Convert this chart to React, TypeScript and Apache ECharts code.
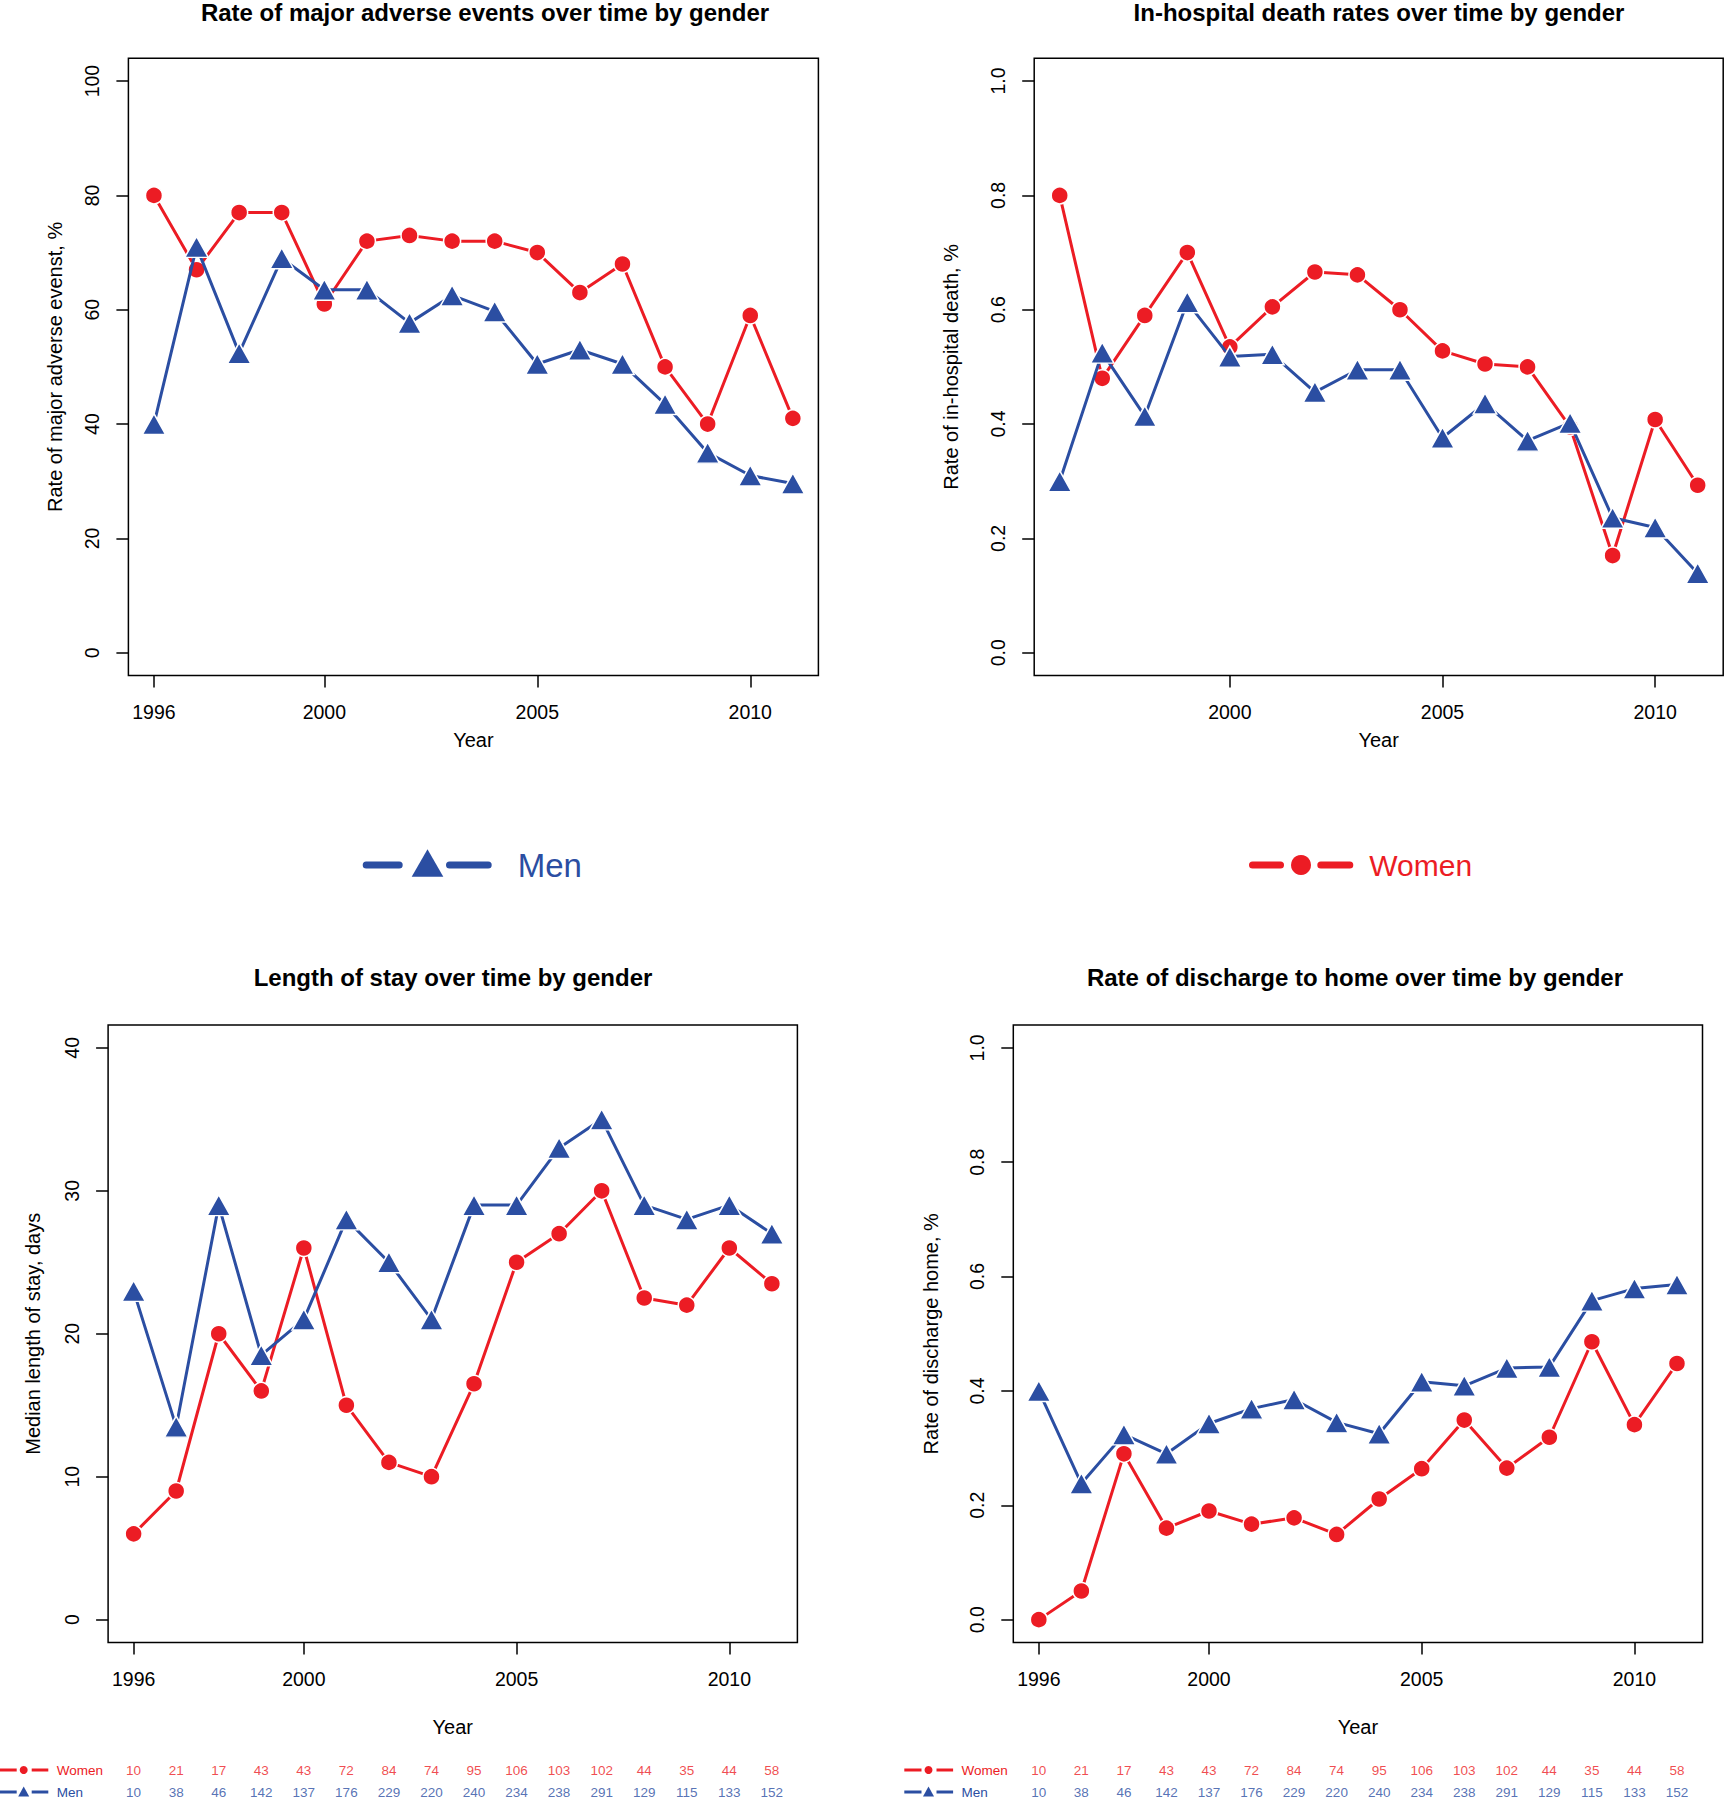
import React, { useEffect, useRef } from "react";
import * as echarts from "echarts";

// ---------------- data ----------------
const YEARS = [1996, 1997, 1998, 1999, 2000, 2001, 2002, 2003, 2004, 2005, 2006, 2007, 2008, 2009, 2010, 2011];

const MAE_WOMEN = [80, 67, 77, 77, 61, 72, 73, 72, 72, 70, 63, 68, 50, 40, 59, 41];
const MAE_MEN = [40, 71, 52.4, 69, 63.5, 63.5, 57.7, 62.5, 59.7, 50.5, 53, 50.5, 43.5, 35, 31, 29.6];

const DEATH_WOMEN = [0.8, 0.48, 0.59, 0.7, 0.535, 0.605, 0.666, 0.661, 0.6, 0.528, 0.505, 0.5, 0.395, 0.17, 0.408, 0.293];
const DEATH_MEN = [0.3, 0.525, 0.414, 0.613, 0.518, 0.522, 0.456, 0.495, 0.495, 0.376, 0.436, 0.371, 0.402, 0.236, 0.219, 0.139];

const LOS_WOMEN = [6, 9, 20, 16, 26, 15, 11, 10, 16.5, 25, 27, 30, 22.5, 22, 26, 23.5];
const LOS_MEN = [23, 13.5, 29, 18.5, 21, 28, 25, 21, 29, 29, 33, 35, 29, 28, 29, 27];

const HOME_WOMEN = [0, 0.05, 0.29, 0.16, 0.19, 0.167, 0.178, 0.149, 0.211, 0.264, 0.349, 0.265, 0.319, 0.486, 0.341, 0.448];
const HOME_MEN = [0.4, 0.238, 0.324, 0.29, 0.343, 0.369, 0.385, 0.345, 0.325, 0.416, 0.409, 0.44, 0.442, 0.558, 0.579, 0.586];

const N_WOMEN = [10, 21, 17, 43, 43, 72, 84, 74, 95, 106, 103, 102, 44, 35, 44, 58];
const N_MEN = [10, 38, 46, 142, 137, 176, 229, 220, 240, 234, 238, 291, 129, 115, 133, 152];

const X_TICKS_FULL = [1996, 2000, 2005, 2010];
const X_TICKS_SHORT = [2000, 2005, 2010];
const Y_TICKS_PCT = [0, 20, 40, 60, 80, 100];
const Y_TICKS_RATE = [0, 0.2, 0.4, 0.6, 0.8, 1.0];
const Y_TICKS_DAYS = [0, 10, 20, 30, 40];

const TITLES = [
  "Rate of major adverse events over time by gender",
  "In-hospital death rates over time by gender",
  "Length of stay over time by gender",
  "Rate of discharge to home over time by gender",
];
const Y_NAMES = [
  "Rate of major adverse evenst, %",
  "Rate of in-hospital death, %",
  "Median length of stay, days",
  "Rate of discharge home, %",
];
const SERIES_NAMES = ["Women", "Men"];

// ---------------- style ----------------
const RED = "#EC1C24";
const BLUE = "#2B4EA2";
const FONT = "'Liberation Sans', Arial, Helvetica, sans-serif";
const X_MIN = 1995.4;
const X_MAX = 2011.6;

const PANELS = [
  { left: 128.4, top: 58.2, width: 690, height: 617.4, yMin: -4, yMax: 104, yTicks: Y_TICKS_PCT, xTicks: X_TICKS_FULL, dec: 0, women: MAE_WOMEN, men: MAE_MEN, yGap: 63, xGap: 54, tx: 485, ty: 12 },
  { left: 1034.2, top: 58.2, width: 689, height: 617.4, yMin: -0.04, yMax: 1.04, yTicks: Y_TICKS_RATE, xTicks: X_TICKS_SHORT, dec: 1, women: DEATH_WOMEN, men: DEATH_MEN, yGap: 73, xGap: 54, tx: 1379, ty: 12 },
  { left: 108.1, top: 1025, width: 689.3, height: 617.5, yMin: -1.6, yMax: 41.6, yTicks: Y_TICKS_DAYS, xTicks: X_TICKS_FULL, dec: 0, women: LOS_WOMEN, men: LOS_MEN, yGap: 65, xGap: 74, tx: 453, ty: 977 },
  { left: 1013.3, top: 1025, width: 689.2, height: 617.5, yMin: -0.04, yMax: 1.04, yTicks: Y_TICKS_RATE, xTicks: X_TICKS_FULL, dec: 1, women: HOME_WOMEN, men: HOME_MEN, yGap: 72.7, xGap: 74, tx: 1355, ty: 977 },
];

const TABLES = [
  { left: 108.1, width: 689.3, legendX: 0 },
  { left: 1013.3, width: 689.2, legendX: 904.8 },
];
const ROW_WOMEN_Y = 1770;
const ROW_MEN_Y = 1792;

function buildOption() {
  const grids: any[] = [];
  const xAxes: any[] = [];
  const yAxes: any[] = [];
  const series: any[] = [];
  const graphics: any[] = [];

  const axisText = { color: "#000", fontSize: 19.5, fontFamily: FONT };

  PANELS.forEach((p, i) => {
    grids.push({
      left: p.left, top: p.top, width: p.width, height: p.height,
      show: true, borderColor: "#000", borderWidth: 1.5, backgroundColor: "transparent",
      containLabel: false, outerBoundsMode: "none",
    });
    xAxes.push({
      type: "value", gridIndex: i, min: X_MIN, max: X_MAX, position: "bottom",
      splitLine: { show: false },
      axisLine: { show: false, onZero: false },
      axisTick: { show: true, length: 12, lineStyle: { color: "#000", width: 1.5 }, customValues: p.xTicks },
      axisLabel: { ...axisText, margin: 26, customValues: p.xTicks, formatter: (v: number) => String(v) },
      name: "Year", nameLocation: "middle", nameGap: p.xGap,
      nameTextStyle: { ...axisText, fontSize: 20 },
    });
    yAxes.push({
      type: "value", gridIndex: i, min: p.yMin, max: p.yMax, position: "left",
      splitLine: { show: false },
      axisLine: { show: false, onZero: false },
      axisTick: { show: true, length: 12, lineStyle: { color: "#000", width: 1.5 }, customValues: p.yTicks },
      axisLabel: { ...axisText, margin: 26, rotate: 90, customValues: p.yTicks, formatter: (v: number) => v.toFixed(p.dec) },
      name: Y_NAMES[i], nameLocation: "middle", nameGap: p.yGap,
      nameTextStyle: { ...axisText, fontSize: 20 },
    });
    series.push({
      type: "line", name: SERIES_NAMES[0], xAxisIndex: i, yAxisIndex: i,
      data: YEARS.map((y, k) => [y, p.women[k]]),
      symbol: "circle", symbolSize: 17, showSymbol: true, showAllSymbol: true,
      lineStyle: { color: RED, width: 3 },
      itemStyle: { color: RED, borderColor: "#fff", borderWidth: 1.5 },
      emphasis: { disabled: true }, silent: true, z: 2,
    });
    series.push({
      type: "line", name: SERIES_NAMES[1], xAxisIndex: i, yAxisIndex: i,
      data: YEARS.map((y, k) => [y, p.men[k]]),
      symbol: "triangle", symbolSize: [23.5, 21], showSymbol: true, showAllSymbol: true,
      lineStyle: { color: BLUE, width: 3 },
      itemStyle: { color: BLUE, borderColor: "#fff", borderWidth: 1.5 },
      emphasis: { disabled: true }, silent: true, z: 3,
    });
    graphics.push({
      type: "text", x: p.tx, y: p.ty, silent: true,
      style: { text: TITLES[i], fill: "#000", font: `bold 24px ${FONT}`, align: "center", verticalAlign: "middle" },
    });
  });

  // count tables under the bottom panels
  const bandH = ROW_MEN_Y - ROW_WOMEN_Y;
  TABLES.forEach((t, j) => {
    const gi = PANELS.length + j;
    grids.push({
      left: t.left, top: ROW_WOMEN_Y - bandH / 2, width: t.width, height: bandH * 2,
      show: false, containLabel: false, outerBoundsMode: "none",
    });
    xAxes.push({ type: "value", gridIndex: gi, min: X_MIN, max: X_MAX, show: false });
    yAxes.push({ type: "category", gridIndex: gi, data: ["Men", "Women"], show: false });
    [
      { name: "Women", counts: N_WOMEN, color: RED },
      { name: "Men", counts: N_MEN, color: BLUE },
    ].forEach((row) => {
      series.push({
        type: "scatter", xAxisIndex: gi, yAxisIndex: gi, silent: true,
        data: YEARS.map((y, k) => [y, row.name, row.counts[k]]),
        symbolSize: 1, itemStyle: { color: "transparent" },
        label: {
          show: true, position: "inside", color: row.color, fontSize: 13.5, fontFamily: FONT,
          formatter: (pr: any) => String(pr.value[2]),
        },
        emphasis: { disabled: true },
      });
    });
    const lx = t.legendX;
    // Women row key
    graphics.push({ type: "line", silent: true, shape: { x1: lx - 0.5, y1: ROW_WOMEN_Y, x2: lx + 16.7, y2: ROW_WOMEN_Y }, style: { stroke: RED, lineWidth: 3 } });
    graphics.push({ type: "line", silent: true, shape: { x1: lx + 31.7, y1: ROW_WOMEN_Y, x2: lx + 48.3, y2: ROW_WOMEN_Y }, style: { stroke: RED, lineWidth: 3 } });
    graphics.push({ type: "circle", silent: true, shape: { cx: lx + 23.7, cy: ROW_WOMEN_Y, r: 4 }, style: { fill: RED } });
    graphics.push({ type: "text", silent: true, x: lx + 56.7, y: ROW_WOMEN_Y, style: { text: "Women", fill: RED, font: `13.5px ${FONT}`, align: "left", verticalAlign: "middle" } });
    // Men row key
    graphics.push({ type: "line", silent: true, shape: { x1: lx - 0.5, y1: ROW_MEN_Y, x2: lx + 16.7, y2: ROW_MEN_Y }, style: { stroke: BLUE, lineWidth: 3 } });
    graphics.push({ type: "line", silent: true, shape: { x1: lx + 31.7, y1: ROW_MEN_Y, x2: lx + 48.3, y2: ROW_MEN_Y }, style: { stroke: BLUE, lineWidth: 3 } });
    graphics.push({ type: "polygon", silent: true, shape: { points: [[lx + 23.7, ROW_MEN_Y - 5.5], [lx + 29.2, ROW_MEN_Y + 4.5], [lx + 18.2, ROW_MEN_Y + 4.5]] }, style: { fill: BLUE } });
    graphics.push({ type: "text", silent: true, x: lx + 56.7, y: ROW_MEN_Y, style: { text: "Men", fill: BLUE, font: `13.5px ${FONT}`, align: "left", verticalAlign: "middle" } });
  });

  // central legend
  graphics.push({ type: "line", silent: true, shape: { x1: 366.2, y1: 865, x2: 399.2, y2: 865 }, style: { stroke: BLUE, lineWidth: 7, lineCap: "round" } });
  graphics.push({ type: "line", silent: true, shape: { x1: 449.5, y1: 865, x2: 488.2, y2: 865 }, style: { stroke: BLUE, lineWidth: 7, lineCap: "round" } });
  graphics.push({ type: "polygon", silent: true, shape: { points: [[427.5, 849.3], [443.3, 876.7], [411.7, 876.7]] }, style: { fill: BLUE } });
  graphics.push({ type: "text", silent: true, x: 517.7, y: 865, style: { text: "Men", fill: BLUE, font: `33px ${FONT}`, align: "left", verticalAlign: "middle" } });

  graphics.push({ type: "line", silent: true, shape: { x1: 1252.5, y1: 865, x2: 1280.5, y2: 865 }, style: { stroke: RED, lineWidth: 7, lineCap: "round" } });
  graphics.push({ type: "line", silent: true, shape: { x1: 1320.8, y1: 865, x2: 1349.8, y2: 865 }, style: { stroke: RED, lineWidth: 7, lineCap: "round" } });
  graphics.push({ type: "circle", silent: true, shape: { cx: 1301, cy: 865, r: 10 }, style: { fill: RED } });
  graphics.push({ type: "text", silent: true, x: 1369.3, y: 865, style: { text: "Women", fill: RED, font: `30px ${FONT}`, align: "left", verticalAlign: "middle" } });

  return {
    animation: false,
    backgroundColor: "#ffffff",
    textStyle: { fontFamily: FONT },
    grid: grids,
    xAxis: xAxes,
    yAxis: yAxes,
    series,
    graphic: graphics,
  };
}

export default function App() {
  const ref = useRef<HTMLDivElement>(null);
  useEffect(() => {
    if (!ref.current) return;
    const chart = echarts.init(ref.current, undefined, { renderer: "svg" });
    chart.setOption(buildOption() as any);
    return () => chart.dispose();
  }, []);
  return (
    <div
      ref={ref}
      style={{ position: "absolute", left: 0, top: 0, width: 1724, height: 1800, background: "#fff" }}
    />
  );
}
